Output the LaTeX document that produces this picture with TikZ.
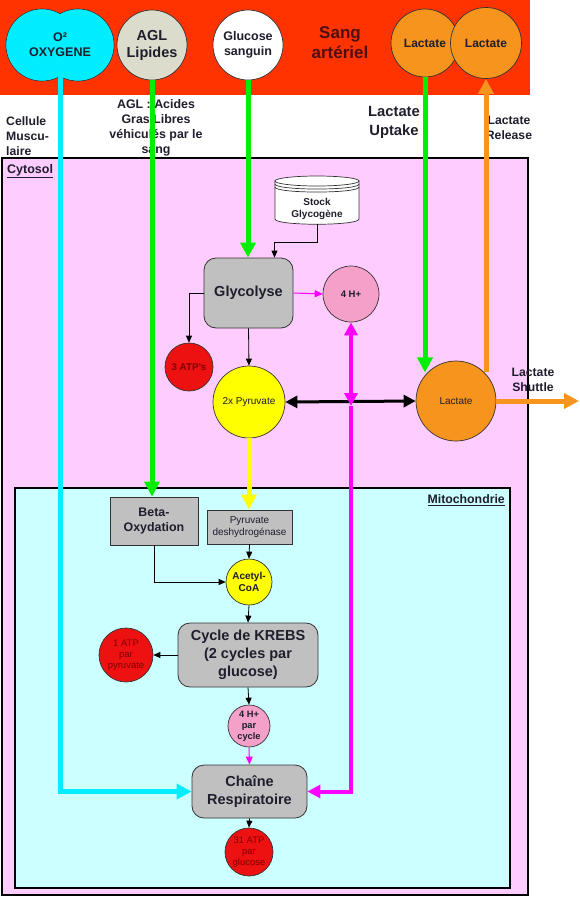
\documentclass[tikz,border=0pt]{standalone}
\usepackage{fontspec}
\setmainfont{Liberation Sans}
\usetikzlibrary{arrows.meta,calc}
\definecolor{bandred}{RGB}{255,51,0}
\definecolor{cyto}{RGB}{255,204,255}
\definecolor{mito}{RGB}{204,255,255}
\definecolor{gbox}{RGB}{192,192,192}
\definecolor{orng}{RGB}{247,148,29}
\definecolor{pinkc}{RGB}{245,160,200}
\definecolor{mag}{RGB}{255,0,255}
\definecolor{grn}{RGB}{0,238,0}
\definecolor{cyn}{RGB}{0,238,255}
\definecolor{ylw}{RGB}{255,255,0}
\definecolor{redc}{RGB}{238,17,17}
\definecolor{atptxt}{RGB}{130,0,0}
\definecolor{aglc}{RGB}{220,220,205}
\definecolor{sangtxt}{RGB}{80,15,15}
\definecolor{txt}{RGB}{30,30,45}
\begin{document}
\begin{tikzpicture}[x=1pt,y=-1pt,
  every node/.append style={text=txt},
  fs/.style 2 args={font=\fontsize{#1}{#2}\selectfont},
  fsb/.style 2 args={font=\fontsize{#1}{#2}\selectfont\bfseries},
  circ/.style={circle, draw=black!80, line width=0.7pt, inner sep=0pt, align=center},
  rbox/.style={draw=black!80, fill=gbox, rounded corners=12pt, line width=0.8pt, align=center, inner sep=2pt},
  sbox/.style={draw=black!80, fill=gbox, line width=0.8pt, align=center, inner sep=2pt},
  thinarr/.style={draw=black, line width=0.8pt, -{Triangle[length=7pt,width=6pt]}},
  magthin/.style={draw=mag, line width=1pt, -{Triangle[length=8pt,width=7pt]}},
  fat/.style={line width=5pt, -{Triangle[length=15pt,width=15pt]}},
  lbl/.style={align=center, inner sep=0pt}
]
\useasboundingbox (0,0) rectangle (580,898);
% blood band
\fill[bandred] (0,0) rectangle (530,95);
% cytosol and mitochondria
\draw[line width=2pt, fill=cyto] (2,158) rectangle (528,895);
\draw[line width=2pt, fill=mito] (15,488) rectangle (510,888);
\node[fsb={12.5}{15}, anchor=west, inner sep=0pt] (cytlbl) at (7,171) {\underline{Cytosol}};
\node[fsb={12.3}{15}, anchor=east, inner sep=0pt] (mitlbl) at (505,500) {\underline{Mitochondrie}};

% oxygen double circle
\filldraw[draw=black!80, line width=0.7pt, fill=cyn] (42,45) circle[radius=36pt];
\filldraw[draw=black!80, line width=0.7pt, fill=cyn] (78,45) circle[radius=36pt];
\fill[cyn] (42,45) circle[radius=35.5pt];
\fill[cyn] (78,45) circle[radius=35.5pt];
\node[fsb={12.5}{15}, lbl] (ox) at (60,45) {O²\\OXYGENE};
\coordinate (oxb) at (60,76);

\node[circ, fill=aglc, minimum size=70pt, fsb={14.5}{17}] (agl) at (152,45) {AGL\\Lipides};
\node[circ, fill=white, minimum size=70pt, fsb={12.5}{15}] (glu) at (248,45) {Glucose\\sanguin};
\node[lbl, fsb={17}{20}, text=sangtxt] (sang) at (340,43) {Sang\\artériel};
\node[circ, fill=orng, minimum size=68pt, fsb={12}{14}] (lactL) at (425,43) {Lactate};
\node[circ, fill=orng, minimum size=71pt, fsb={12}{14}] (lactR) at (486,43) {Lactate};

% labels under band
\node[lbl, fsb={12.2}{15}, align=left, anchor=west] (cell) at (6,136) {Cellule\\Muscu-\\laire};
\node[lbl, fsb={12.4}{15}] (agltxt) at (156,127.5) {AGL : Acides\\Gras Libres\\véhiculés par le\\sang};
\node[lbl, fsb={14.8}{19}] (upt) at (394,122.5) {Lactate\\Uptake};
\node[lbl, fsb={12.2}{15}] (rel) at (509,127.5) {Lactate\\Release};
\node[lbl, fsb={12.2}{15}] (shut) at (533,379.5) {Lactate\\Shuttle};

% stock glycogene cylinder
\filldraw[fill=white, draw=black!80, line width=0.7pt] (275,181) -- (275,219) .. controls (275,226) and (359,226) .. (359,219) -- (359,181) -- cycle;
\filldraw[fill=white, draw=black!80, line width=0.7pt] (317,181) ellipse[x radius=42pt, y radius=5pt];
\draw[black!80, line width=0.7pt] (275,184) .. controls (275,190.7) and (359,190.7) .. (359,184);
\draw[black!80, line width=0.7pt] (275,187) .. controls (275,193.7) and (359,193.7) .. (359,187);
\node[lbl, fsb={10}{12}] (stock) at (317,209) {Stock\\Glycogène};
\coordinate (stockb) at (317,224);
\coordinate (stockbend) at (317,242);

% cytosol nodes
\node[rbox, minimum width=89pt, minimum height=70pt, fsb={14.5}{17}] (gly) at (248.5,293) {Glycolyse};
\node[circ, fill=pinkc, minimum size=56pt, fsb={9.5}{11}] (h4) at (351,294) {4 H+};
\node[circ, fill=redc, minimum size=48pt, fsb={9.8}{11}, text=atptxt] (atp3) at (189,367) {3 ATP's};
\node[circ, fill=ylw, minimum size=72pt, fs={10}{12}] (pyr) at (249,402) {2x Pyruvate};
\node[circ, fill=orng, minimum size=80pt, fs={10}{12}] (lac) at (456,401) {Lactate};

% mito nodes
\node[sbox, minimum width=88pt, minimum height=48pt, fsb={12.4}{15}] (beta) at (154,521) {Beta-\\Oxydation};
\node[sbox, minimum width=85pt, minimum height=34pt, fs={10}{12}] (pdh) at (249.5,527) {Pyruvate\\deshydrogénase};
\node[circ, fill=ylw, minimum size=46pt, fsb={10}{12}] (acoa) at (249,582) {Acetyl-\\CoA};
\node[rbox, minimum width=140pt, minimum height=64pt, fsb={14.5}{18}] (krebs) at (248,655) {Cycle de KREBS\\(2 cycles par\\glucose)};
\node[circ, fill=redc, minimum size=54pt, fs={9.5}{11}, text=atptxt] (atp1) at (126,655) {1 ATP\\par\\pyruvate};
\node[circ, fill=pinkc, minimum size=42pt, fsb={9.3}{11}] (h4c) at (249,726) {4 H+\\par\\cycle};
\node[rbox, minimum width=115pt, minimum height=53pt, fsb={14.5}{18}] (chaine) at (249.5,791.5) {Chaîne\\Respiratoire};
\node[circ, fill=redc, minimum size=48pt, fs={9.5}{11}, text=atptxt] (atp31) at (249,852) {31 ATP\\par\\glucose};
\coordinate (shutend) at (579,401);

% thin connectors
\draw[thinarr] (stockb) -- (stockbend) -| ([xshift=26pt]gly.north);
\draw[thinarr] (gly.west) -| (atp3.north);
\draw[thinarr] (gly.south) -- (pyr.north);
\draw[magthin] (gly.east) -- (h4.west);
\draw[thinarr] (beta.south) |- (acoa.west);
\draw[thinarr] (pdh.south) -- (acoa.north);
\draw[thinarr] (acoa.south) -- (krebs.north);
\draw[thinarr] (krebs.west) -- (atp1.east);
\draw[thinarr] (krebs.south) -- (h4c.north);
\draw[magthin] (h4c.south) -- (chaine.north);
\draw[thinarr] (chaine.south) -- (atp31.north);

% thick connectors
\draw[fat, draw=cyn, -{Triangle[length=15pt,width=15pt]}] (oxb) |- (chaine.west);
\draw[fat, draw=grn] (agl.south) -- (agl.south |- beta.north);
\draw[fat, draw=grn] (glu.south) -- (glu.south |- gly.north);
\draw[fat, draw=grn] (lactL.south) -- (lactL.south |- lac.135);
\draw[fat, draw=orng] (lactR.south |- lac.45) -- (lactR.south);
\draw[fat, draw=orng] (lac.east) -- (shutend);
\draw[fat, draw=ylw] (pyr.south) -- (pyr.south |- pdh.north);
\draw[line width=3pt, {Triangle[length=12pt,width=12pt]}-{Triangle[length=12pt,width=12pt]}] (pyr.east) -- (lac.west);
\coordinate (cross) at (h4.south |- pyr.east);
\draw[line width=4pt, draw=mag, {Triangle[length=13pt,width=13pt]}-{Triangle[length=13pt,width=13pt]}] (h4.south) -- ([yshift=-4pt]cross);
\draw[line width=4pt, draw=mag, -{Triangle[length=13pt,width=13pt]}] ([yshift=-4pt]cross) |- (chaine.east);
\end{tikzpicture}
\end{document}
